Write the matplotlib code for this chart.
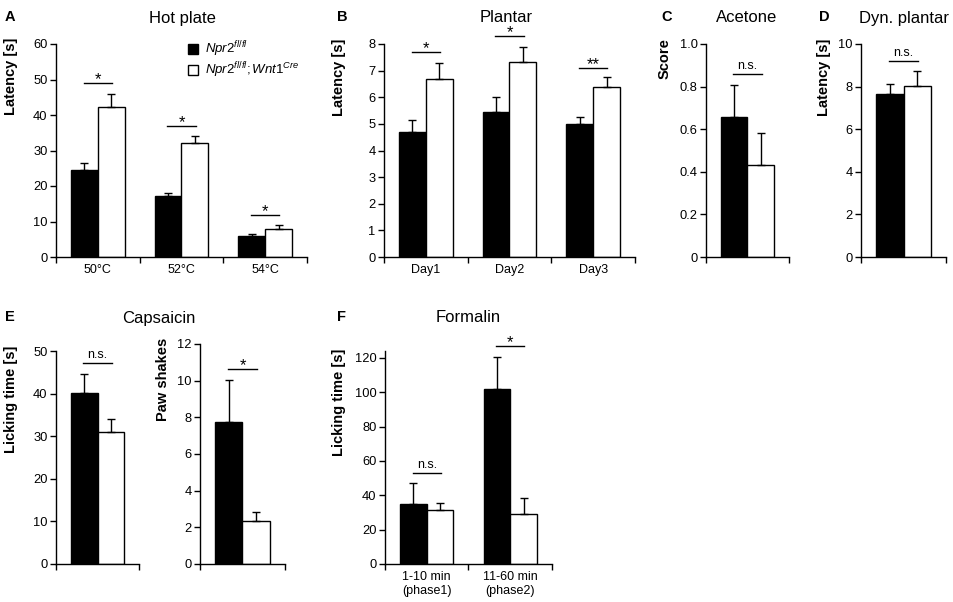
import numpy as np
import matplotlib
matplotlib.use("Agg")
import matplotlib.pyplot as plt
from matplotlib.patches import Patch

plt.rcParams['font.family'] = ['Liberation Sans', 'DejaVu Sans']
plt.rcParams['mathtext.fontset'] = 'custom'
plt.rcParams['mathtext.rm'] = 'Liberation Sans'
plt.rcParams['mathtext.it'] = 'Liberation Sans:italic'

# ------------------------------------------------------------
# data
# ------------------------------------------------------------
hot_cats = ['50°C', '52°C', '54°C']
hot_ctrl = [24.4, 17.1, 5.9]
hot_ctrl_err = [2.2, 0.8, 0.6]
hot_ko = [42.2, 32.0, 7.9]
hot_ko_err = [3.7, 2.0, 1.0]
hot_sig = ['*', '*', '*']
hot_sig_y = [49.1, 37.0, 11.9]

plant_cats = ['Day1', 'Day2', 'Day3']
plant_ctrl = [4.69, 5.46, 4.99]
plant_ctrl_err = [0.44, 0.55, 0.25]
plant_ko = [6.67, 7.31, 6.40]
plant_ko_err = [0.61, 0.59, 0.35]
plant_sig = ['*', '*', '**']
plant_sig_y = [7.69, 8.30, 7.09]

acet_ctrl = [0.658]
acet_ctrl_err = [0.148]
acet_ko = [0.434]
acet_ko_err = [0.146]
acet_sig = ['n.s.']
acet_sig_y = [0.86]

dyn_ctrl = [7.67]
dyn_ctrl_err = [0.47]
dyn_ko = [8.03]
dyn_ko_err = [0.70]
dyn_sig = ['n.s.']
dyn_sig_y = [9.22]

caps_lick_ctrl = [40.2]
caps_lick_ctrl_err = [4.3]
caps_lick_ko = [31.0]
caps_lick_ko_err = [3.1]
caps_lick_sig = ['n.s.']
caps_lick_sig_y = [47.3]

caps_shake_ctrl = [7.77]
caps_shake_ctrl_err = [2.27]
caps_shake_ko = [2.36]
caps_shake_ko_err = [0.45]
caps_shake_sig = ['*']
caps_shake_sig_y = [10.64]

form_cats = ['1-10 min\n(phase1)', '11-60 min\n(phase2)']
form_ctrl = [35.0, 101.7]
form_ctrl_err = [12.0, 18.9]
form_ko = [31.5, 28.9]
form_ko_err = [3.8, 9.7]
form_sig = ['n.s.', '*']
form_sig_y = [53.2, 126.8]

W, H = 954, 602
fig = plt.figure(figsize=(W / 100, H / 100), dpi=100)


def px_axes(x0, x1, ytop, ybot):
    return fig.add_axes([x0 / W, (H - ybot) / H, (x1 - x0) / W, (ybot - ytop) / H])


def ftext(x, y, s, **kw):
    fig.text(x / W, 1 - y / H, s, **kw)


def bar_panel(ax, ctrl, ctrl_err, ko, ko_err, sig, sig_y, ylim, yticks,
              yticklabels=None, cats=None):
    n = len(ctrl)
    x = np.arange(n)
    w = 0.32
    ax.bar(x - w / 2, ctrl, w, color='black', edgecolor='black', linewidth=1, zorder=2)
    ax.bar(x + w / 2, ko, w, color='white', edgecolor='black', linewidth=1, zorder=2)
    ax.errorbar(x - w / 2, ctrl, yerr=[np.zeros(n), ctrl_err], fmt='none',
                ecolor='black', elinewidth=1, capsize=3, capthick=1, zorder=3)
    ax.errorbar(x + w / 2, ko, yerr=[np.zeros(n), ko_err], fmt='none',
                ecolor='black', elinewidth=1, capsize=3, capthick=1, zorder=3)

    # significance bars
    for i in range(n):
        ax.plot([i - 0.17, i + 0.17], [sig_y[i], sig_y[i]], color='black',
                lw=1, clip_on=False)
        fs = 9 if sig[i] == 'n.s.' else 12
        off = 1 if sig[i] == 'n.s.' else -3
        ax.annotate(sig[i], (i, sig_y[i]), xytext=(0, off), textcoords='offset points',
                    ha='center', va='bottom', fontsize=fs, annotation_clip=False)

    ax.set_xlim(-0.5, n - 0.5)
    ax.set_ylim(*ylim)
    ax.set_yticks(yticks)
    if yticklabels is not None:
        ax.set_yticklabels(yticklabels)
    ax.set_xticks(x)
    if cats is not None:
        ax.set_xticklabels(cats)
    else:
        ax.set_xticklabels([])
    ax.set_xticks(np.arange(n + 1) - 0.5, minor=True)
    ax.tick_params(axis='x', which='major', length=0, pad=5, labelsize=9)
    ax.tick_params(axis='x', which='minor', length=4, width=1, direction='out')
    ax.tick_params(axis='y', length=4, width=1, direction='out', pad=2, labelsize=9.3)
    for s in ['top', 'right']:
        ax.spines[s].set_visible(False)
    for s in ['left', 'bottom']:
        ax.spines[s].set_linewidth(1)


# A - Hot plate
axA = px_axes(56, 307, 44, 257)
bar_panel(axA, hot_ctrl, hot_ctrl_err, hot_ko, hot_ko_err, hot_sig, hot_sig_y,
          (0, 60), np.arange(0, 61, 10), cats=hot_cats)
handles = [Patch(facecolor='black', edgecolor='black'),
           Patch(facecolor='white', edgecolor='black')]
labels = [r'$\mathit{Npr2}^{\mathit{fl/fl}}$',
          r'$\mathit{Npr2}^{\mathit{fl/fl}}\mathit{;Wnt1}^{\mathit{Cre}}$']
axA.legend(handles, labels, loc='upper left', bbox_to_anchor=(0.525, 1.02),
           frameon=False, fontsize=9.5, handlelength=0.8, handleheight=0.8,
           handletextpad=0.5, labelspacing=0.1, borderpad=0, borderaxespad=0)

# B - Plantar
axB = px_axes(384, 635, 44, 257)
bar_panel(axB, plant_ctrl, plant_ctrl_err, plant_ko, plant_ko_err, plant_sig,
          plant_sig_y, (0, 8), np.arange(0, 9, 1), cats=plant_cats)

# C - Acetone
axC = px_axes(706, 789, 44, 257)
bar_panel(axC, acet_ctrl, acet_ctrl_err, acet_ko, acet_ko_err, acet_sig, acet_sig_y,
          (0, 1.0), [0, 0.2, 0.4, 0.6, 0.8, 1.0],
          yticklabels=['0', '0.2', '0.4', '0.6', '0.8', '1.0'])

# D - Dyn. plantar
axD = px_axes(861, 946, 44, 257)
bar_panel(axD, dyn_ctrl, dyn_ctrl_err, dyn_ko, dyn_ko_err, dyn_sig, dyn_sig_y,
          (0, 10), np.arange(0, 11, 2))

# E - Capsaicin
axE1 = px_axes(56, 139, 351, 564)
bar_panel(axE1, caps_lick_ctrl, caps_lick_ctrl_err, caps_lick_ko, caps_lick_ko_err,
          caps_lick_sig, caps_lick_sig_y, (0, 50), np.arange(0, 51, 10))
axE2 = px_axes(200, 285, 344, 564)
bar_panel(axE2, caps_shake_ctrl, caps_shake_ctrl_err, caps_shake_ko, caps_shake_ko_err,
          caps_shake_sig, caps_shake_sig_y, (0, 12), np.arange(0, 13, 2))

# F - Formalin
axF = px_axes(385, 552, 351, 564)
bar_panel(axF, form_ctrl, form_ctrl_err, form_ko, form_ko_err, form_sig, form_sig_y,
          (0, 124), np.arange(0, 121, 20), cats=form_cats)

# titles
for x, y, s in [(182, 18, 'Hot plate'), (506, 18, 'Plantar'), (747, 18, 'Acetone'),
                (904, 18, 'Dyn. plantar'), (159, 318, 'Capsaicin'), (468, 318, 'Formalin')]:
    ftext(x, y, s, ha='center', va='center', fontsize=12)

# panel letters
for x, y, s in [(10, 17, 'A'), (342, 17, 'B'), (667, 17, 'C'), (824, 17, 'D'),
                (10, 317, 'E'), (341, 317, 'F')]:
    ftext(x, y, s, ha='center', va='center', fontsize=10.5, fontweight='bold')

# y labels
for x, y, s in [(11, 76, 'Latency [s]'), (339, 77, 'Latency [s]'), (665, 59, 'Score'),
                (824, 77, 'Latency [s]'), (11, 399, 'Licking time [s]'),
                (163, 379, 'Paw shakes'), (339, 402, 'Licking time [s]')]:
    ftext(x, y, s, ha='center', va='center', rotation=90, fontsize=10.5,
          fontweight='bold')

fig.savefig('out.png', dpi=100)
